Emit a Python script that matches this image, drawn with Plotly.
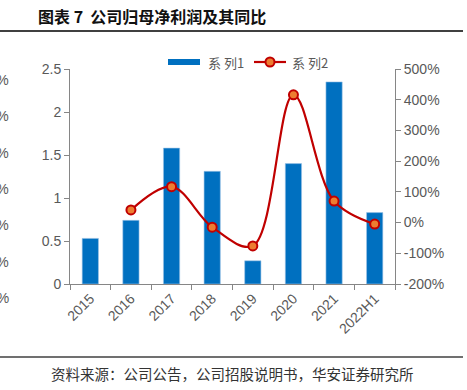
import plotly.graph_objects as go

categories = ["2015", "2016", "2017", "2018", "2019", "2020", "2021", "2022H1"]
profit = [0.53, 0.74, 1.58, 1.31, 0.27, 1.40, 2.35, 0.83]
growth_cats = ["2016", "2017", "2018", "2019", "2020", "2021", "2022H1"]
growth = [41, 117, -15, -76, 416, 70, -5]
left_ticks = [0, 0.5, 1, 1.5, 2, 2.5]
right_ticks = [-200, -100, 0, 100, 200, 300, 400, 500]
right_labels = ["-200%", "-100%", "0%", "100%", "200%", "300%", "400%", "500%"]
clipped_labels = ["600%", "500%", "400%", "300%", "200%", "100%", "0%"]

W, H = 467, 390
L, R, T, B = 70, 72, 69, 106
pw, ph = W - L - R, H - T - B

def px(x):
    return (x - L) / pw

def py(y):
    return (H - B - y) / ph

gray = "#595959"
axis_col = "#868686"
bar_col = "#0070C0"
line_col = "#C00000"
mk_col = "#ED7D31"

fig = go.Figure()
fig.add_trace(go.Bar(
    x=categories, y=profit, name="系列1",
    marker=dict(color=bar_col, line=dict(color="#9DC3E6", width=0.6)),
    yaxis="y",
))
fig.add_trace(go.Scatter(
    x=growth_cats, y=growth, name="系列2", mode="lines+markers",
    line=dict(color=line_col, width=2.2, shape="spline", smoothing=1.0),
    marker=dict(size=9, color=mk_col, line=dict(color=line_col, width=2)),
    yaxis="y2",
))

font_tick = dict(family="Liberation Sans, Arial, sans-serif", size=14, color=gray)

fig.update_layout(
    width=W, height=H,
    margin=dict(l=L, r=R, t=T, b=B, autoexpand=False),
    paper_bgcolor="white", plot_bgcolor="white",
    showlegend=False,
    bargap=0.6,
    xaxis=dict(
        type="category", showgrid=False, showline=True, linecolor=axis_col, linewidth=1,
        ticks="outside", ticklen=5, tickcolor=axis_col, tickson="boundaries",
        tickangle=-45, tickfont=font_tick, range=[-0.5, 7.5], automargin=False,
    ),
    yaxis=dict(
        range=[0, 2.5], tickvals=left_ticks, showgrid=False, zeroline=False,
        showline=True, linecolor=axis_col, linewidth=1, ticks="outside", ticklen=5,
        tickcolor=axis_col, tickfont=font_tick, automargin=False,
    ),
    yaxis2=dict(
        range=[-200, 500], tickvals=right_ticks, ticktext=right_labels, overlaying="y", side="right",
        showgrid=False, zeroline=False, showline=True, linecolor=axis_col, linewidth=1,
        ticks="outside", ticklen=5, tickcolor=axis_col, tickfont=font_tick, automargin=False,
    ),
)

cjk = "Noto Sans CJK SC, sans-serif"
annotations = [
    dict(text="<b>图表 7  公司归母净利润及其同比</b>", xref="paper", yref="paper",
         x=px(36), y=py(16), xanchor="left", yanchor="middle", showarrow=False,
         font=dict(family=cjk, size=16, color="#111111")),
    dict(text="资料来源：公司公告，公司招股说明书，华安证券研究所", xref="paper", yref="paper",
         x=px(232), y=py(373), xanchor="center", yanchor="middle", showarrow=False,
         font=dict(family=cjk, size=14.5, color="#333333")),
    dict(text="系 列1", xref="paper", yref="paper", x=px(206), y=py(62), xanchor="left",
         yanchor="middle", showarrow=False, font=dict(family=cjk, size=13, color=gray)),
    dict(text="系 列2", xref="paper", yref="paper", x=px(290), y=py(62), xanchor="left",
         yanchor="middle", showarrow=False, font=dict(family=cjk, size=13, color=gray)),
]
for i, lab in enumerate(clipped_labels):
    annotations.append(dict(text=lab, xref="paper", yref="paper", x=px(11), y=py(80 + i * 36.3),
                            xanchor="right", yanchor="middle", showarrow=False,
                            font=font_tick))
fig.update_layout(annotations=annotations)

shapes = [
    dict(type="line", x0=px(0), x1=px(463), y0=py(31), y1=py(31),
         line=dict(color="#404040", width=2)),
    dict(type="line", x0=px(0), x1=px(463), y0=py(357), y1=py(357),
         line=dict(color="#404040", width=1.5)),
    dict(type="rect", x0=px(168), x1=px(200), y0=py(65), y1=py(59),
         fillcolor=bar_col, line=dict(width=0)),
    dict(type="line", x0=px(254), x1=px(286), y0=py(62), y1=py(62),
         line=dict(color=line_col, width=2.2)),
    dict(type="circle", x0=px(265.5), x1=px(274.5), y0=py(66.5), y1=py(57.5),
         fillcolor=mk_col, line=dict(color=line_col, width=2)),
]
for s in shapes:
    s.update(xref="paper", yref="paper", layer="above")
    fig.add_shape(**s)

fig.write_html("out.html", config={"displayModeBar": False},
               post_script="document.body.style.margin='0';document.body.style.overflow='hidden';")
